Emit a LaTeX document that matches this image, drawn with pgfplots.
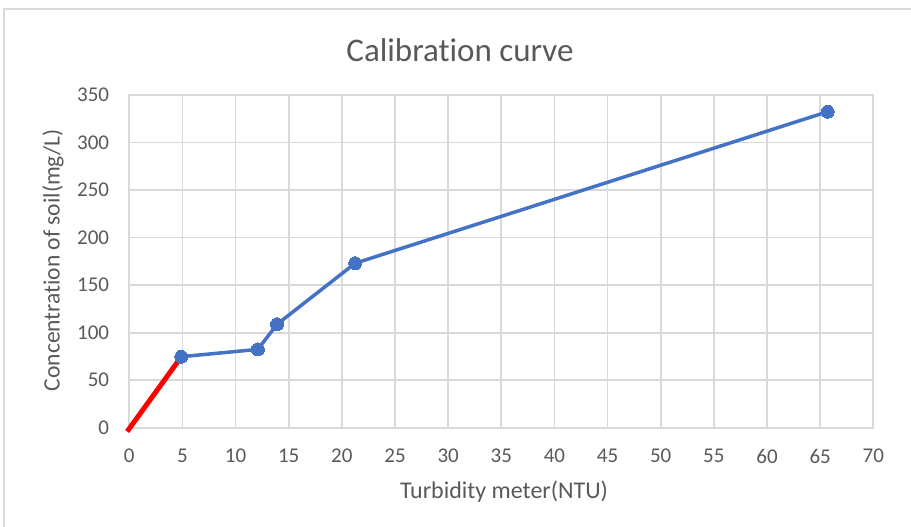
\documentclass[border=0pt]{standalone}
\usepackage{pgfplots}
\pgfplotsset{compat=1.18}
\usepackage{fontspec}
\setmainfont{Carlito}[Ligatures={NoCommon}]
\definecolor{txt}{HTML}{595959}
\definecolor{gridc}{HTML}{D9D9D9}
\definecolor{blu}{HTML}{4472C4}
\begin{document}
\begin{tikzpicture}[x=1pt,y=1pt]
\path[use as bounding box] (0,0) rectangle (911,527);
\draw[gridc, line width=1.5pt] (4,-2) -- (4,518) -- (913,518);
\begin{axis}[
  at={(129.3pt,99.3pt)}, anchor=south west,
  scale only axis, width=744pt, height=332.7pt,
  xmin=0, xmax=70, ymin=0, ymax=350,
  xtick={0,5,...,70}, ytick={0,50,...,350},
  grid=major,
  major grid style={gridc, line width=1.8pt},
  axis line style={gridc, line width=1.8pt},
  major tick length=0pt, tick style={draw=none},
  tick label style={font=\fontsize{21}{25}\selectfont, text=txt, inner sep=0pt},
  /pgf/number format/assume math mode=true,
  xticklabel style={anchor=north, yshift=-21pt},
  yticklabel style={anchor=east, xshift=-20pt},
  clip=false,
]
\addplot[red, line width=5pt, line cap=butt] coordinates {(-0.2,-4) (4.9,74.7)};
\addplot[blu, line width=3.5pt, mark=*, mark size=6.5pt, mark options={fill=blu, draw=blu, line width=0pt}]
  coordinates {(4.9,74.7) (12.1,82.4) (13.9,108.8) (21.25,173) (65.7,332.4)};
\end{axis}
\node[anchor=base, text=txt, font=\fontsize{33}{40}\selectfont] at (460,465) {Calibration curve};
\node[anchor=base, text=txt, font=\fontsize{24}{29}\selectfont] at (504,28) {Turbidity meter(NTU)};
\node[anchor=base, rotate=90, text=txt, font=\fontsize{23.5}{28}\selectfont] at (59.5,267) {Concentration of soil(mg/L)};
\end{tikzpicture}
\end{document}
